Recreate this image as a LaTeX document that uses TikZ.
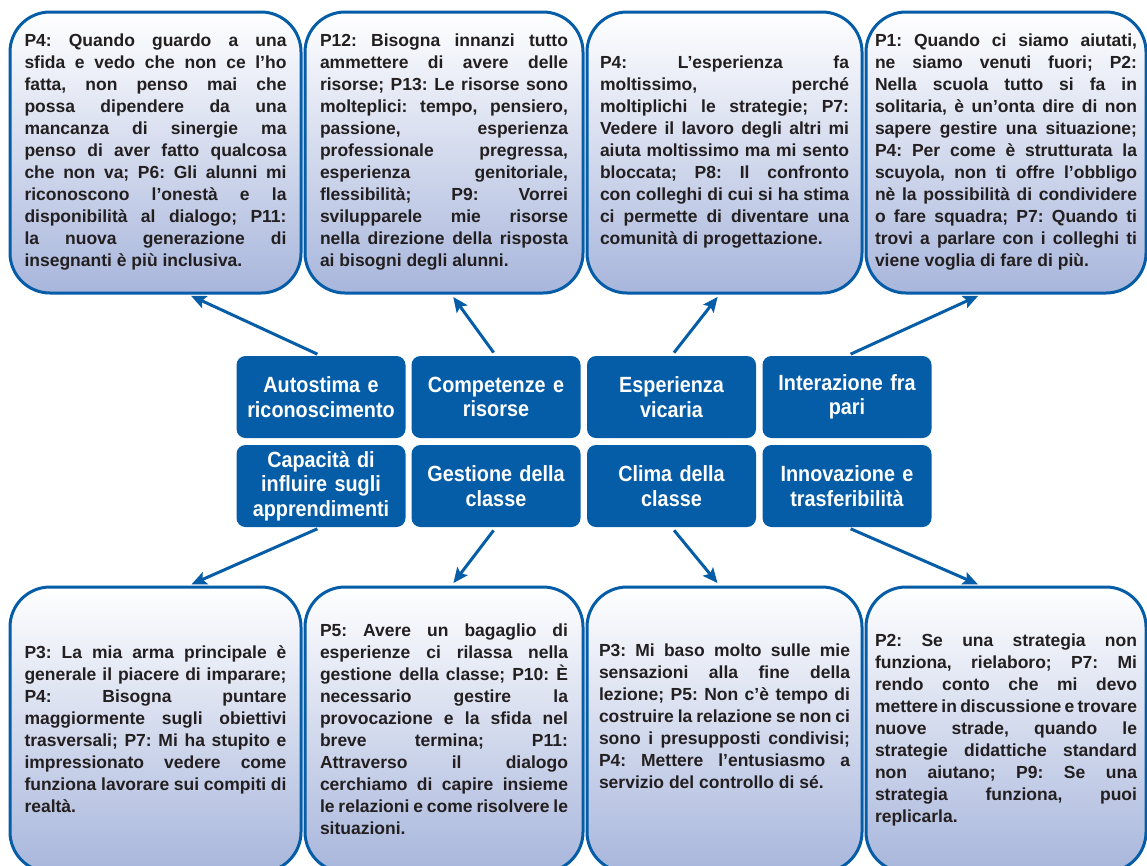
\documentclass[tikz,border=0pt]{standalone}
\usepackage{fontspec}
\setmainfont{Liberation Sans}
\newfontfamily\themefont{Liberation Sans}[FakeStretch=0.9]
\usetikzlibrary{arrows.meta}
\definecolor{figB}{RGB}{5,92,167}
\definecolor{figL}{RGB}{168,182,220}
\definecolor{figT}{RGB}{35,31,32}
\newcommand\quotefont{\fontsize{17.5}{22}\selectfont\bfseries\frenchspacing\tolerance=10000\relax\pretolerance=10000\relax\hyphenpenalty=10000\relax}

\begin{document}
\begin{tikzpicture}[x=1pt,y=-1pt,>={Stealth[length=15pt,width=13pt,inset=3pt]},
  quote/.style={draw=figB,line width=3pt,rounded corners=40pt,top color=white,bottom color=figL,align=justify,text=figT,font=\quotefont},
  theme/.style={fill=figB,rounded corners=9pt,minimum width=169pt,minimum height=82pt,text width=160pt,align=center,text=white,font=\themefont\fontsize{22}{24.5}\selectfont\bfseries},
  link/.style={->,draw=figB,line width=3pt,shorten <=4pt,shorten >=3pt}]
\useasboundingbox (0,0) rectangle (1147,865);
\clip (0,0) rectangle (1147,865);
% top row of quotes
\node[quote,minimum width=291pt,minimum height=281pt,text width=262pt] (t1) at (155.5,152.5) {P4: Quando guardo a una\linebreak sfida e vedo che non ce l’ho\linebreak fatta, non penso mai che\linebreak possa dipendere da una\linebreak mancanza di sinergie ma\linebreak penso di aver fatto qualcosa\linebreak che non va; P6: Gli alunni mi\linebreak riconoscono l’onestà e la\linebreak disponibilità al dialogo; P11:\linebreak la nuova generazione di\linebreak insegnanti è più inclusiva.};
\node[quote,minimum width=278pt,minimum height=281pt,text width=248pt] (t2) at (444,152.5) {P12: Bisogna innanzi tutto\linebreak ammettere di avere delle\linebreak risorse; P13: Le risorse sono\linebreak molteplici: tempo, pensiero,\linebreak passione, esperienza\linebreak professionale pregressa,\linebreak esperienza genitoriale,\linebreak flessibilità; P9: Vorrei\linebreak svilupparele mie risorse\linebreak nella direzione della risposta\linebreak ai bisogni degli alunni.};
\node[quote,minimum width=275pt,minimum height=281pt,text width=249pt] (t3) at (724.5,152.5) {P4: L’esperienza fa\linebreak moltissimo, perché\linebreak moltiplichi le strategie; P7:\linebreak Vedere il lavoro degli altri mi\linebreak aiuta moltissimo ma mi sento\linebreak bloccata; P8: Il confronto\linebreak con colleghi di cui si ha stima\linebreak ci permette di diventare una\linebreak comunità di progettazione.};
\node[quote,minimum width=280pt,minimum height=281pt,text width=262pt] (t4) at (1006,152.5) {P1: Quando ci siamo aiutati,\linebreak ne siamo venuti fuori; P2:\linebreak Nella scuola tutto si fa in\linebreak solitaria, è un’onta dire di non\linebreak sapere gestire una situazione;\linebreak P4: Per come è strutturata la\linebreak scuyola, non ti offre l’obbligo\linebreak nè la possibilità di condividere\linebreak o fare squadra; P7: Quando ti\linebreak trovi a parlare con i colleghi ti\linebreak viene voglia di fare di più.};
% themes
\node[theme] (c1) at (321,397) {Autostima e\\riconoscimento};
\node[theme] (c2) at (496,397) {Competenze e\\risorse};
\node[theme] (c3) at (671.5,397) {Esperienza\\vicaria};
\node[theme] (c4) at (847,397) {Interazione fra\\pari};
\node[theme] (c5) at (321,486) {Capacità di\\influire sugli\\apprendimenti};
\node[theme] (c6) at (496,486) {Gestione della\\classe};
\node[theme] (c7) at (671.5,486) {Clima della\\classe};
\node[theme] (c8) at (847,486) {Innovazione e\\trasferibilità};
% bottom row of quotes
\node[quote,minimum width=291pt,minimum height=285pt,text width=262pt] (b1) at (155.5,729.5) {P3: La mia arma principale è\linebreak generale il piacere di imparare;\linebreak P4: Bisogna puntare\linebreak maggiormente sugli obiettivi\linebreak trasversali; P7: Mi ha stupito e\linebreak impressionato vedere come\linebreak funziona lavorare sui compiti di\linebreak realtà.};
\node[quote,minimum width=278pt,minimum height=285pt,text width=248pt] (b2) at (444,729.5) {P5: Avere un bagaglio di\linebreak esperienze ci rilassa nella\linebreak gestione della classe; P10: È\linebreak necessario gestire la\linebreak provocazione e la sfida nel\linebreak breve termina; P11:\linebreak Attraverso il dialogo\linebreak cerchiamo di capire insieme\linebreak le relazioni e come risolvere le\linebreak situazioni.};
\node[quote,minimum width=275pt,minimum height=285pt,text width=251pt] (b3) at (724.5,729.5) {P3: Mi baso molto sulle mie\linebreak sensazioni alla fine della\linebreak lezione; P5: Non c’è tempo di\linebreak costruire la relazione se non ci\linebreak sono i presupposti condivisi;\linebreak P4: Mettere l’entusiasmo a\linebreak servizio del controllo di sé.\par\vspace{26pt}};
\node[quote,minimum width=280pt,minimum height=285pt,text width=262pt] (b4) at (1006,729.5) {P2: Se una strategia non\linebreak funziona, rielaboro; P7: Mi\linebreak rendo conto che mi devo\linebreak mettere in discussione e trovare\linebreak nuove strade, quando le\linebreak strategie didattiche standard\linebreak non aiutano; P9: Se una\linebreak strategia funziona, puoi\linebreak replicarla.};
% arrows
\draw[link] (c1.north) -- (t1.-77);
\draw[link] (c2.north) -- (t2.-87.6);
\draw[link] (c3.north) -- (t3.-92.6);
\draw[link] (c4.north) -- (t4.-100.9);
\draw[link] (c5.south) -- (b1.77.2);
\draw[link] (c6.south) -- (b2.87.6);
\draw[link] (c7.south) -- (b3.92.6);
\draw[link] (c8.south) -- (b4.100.7);
\end{tikzpicture}
\end{document}
